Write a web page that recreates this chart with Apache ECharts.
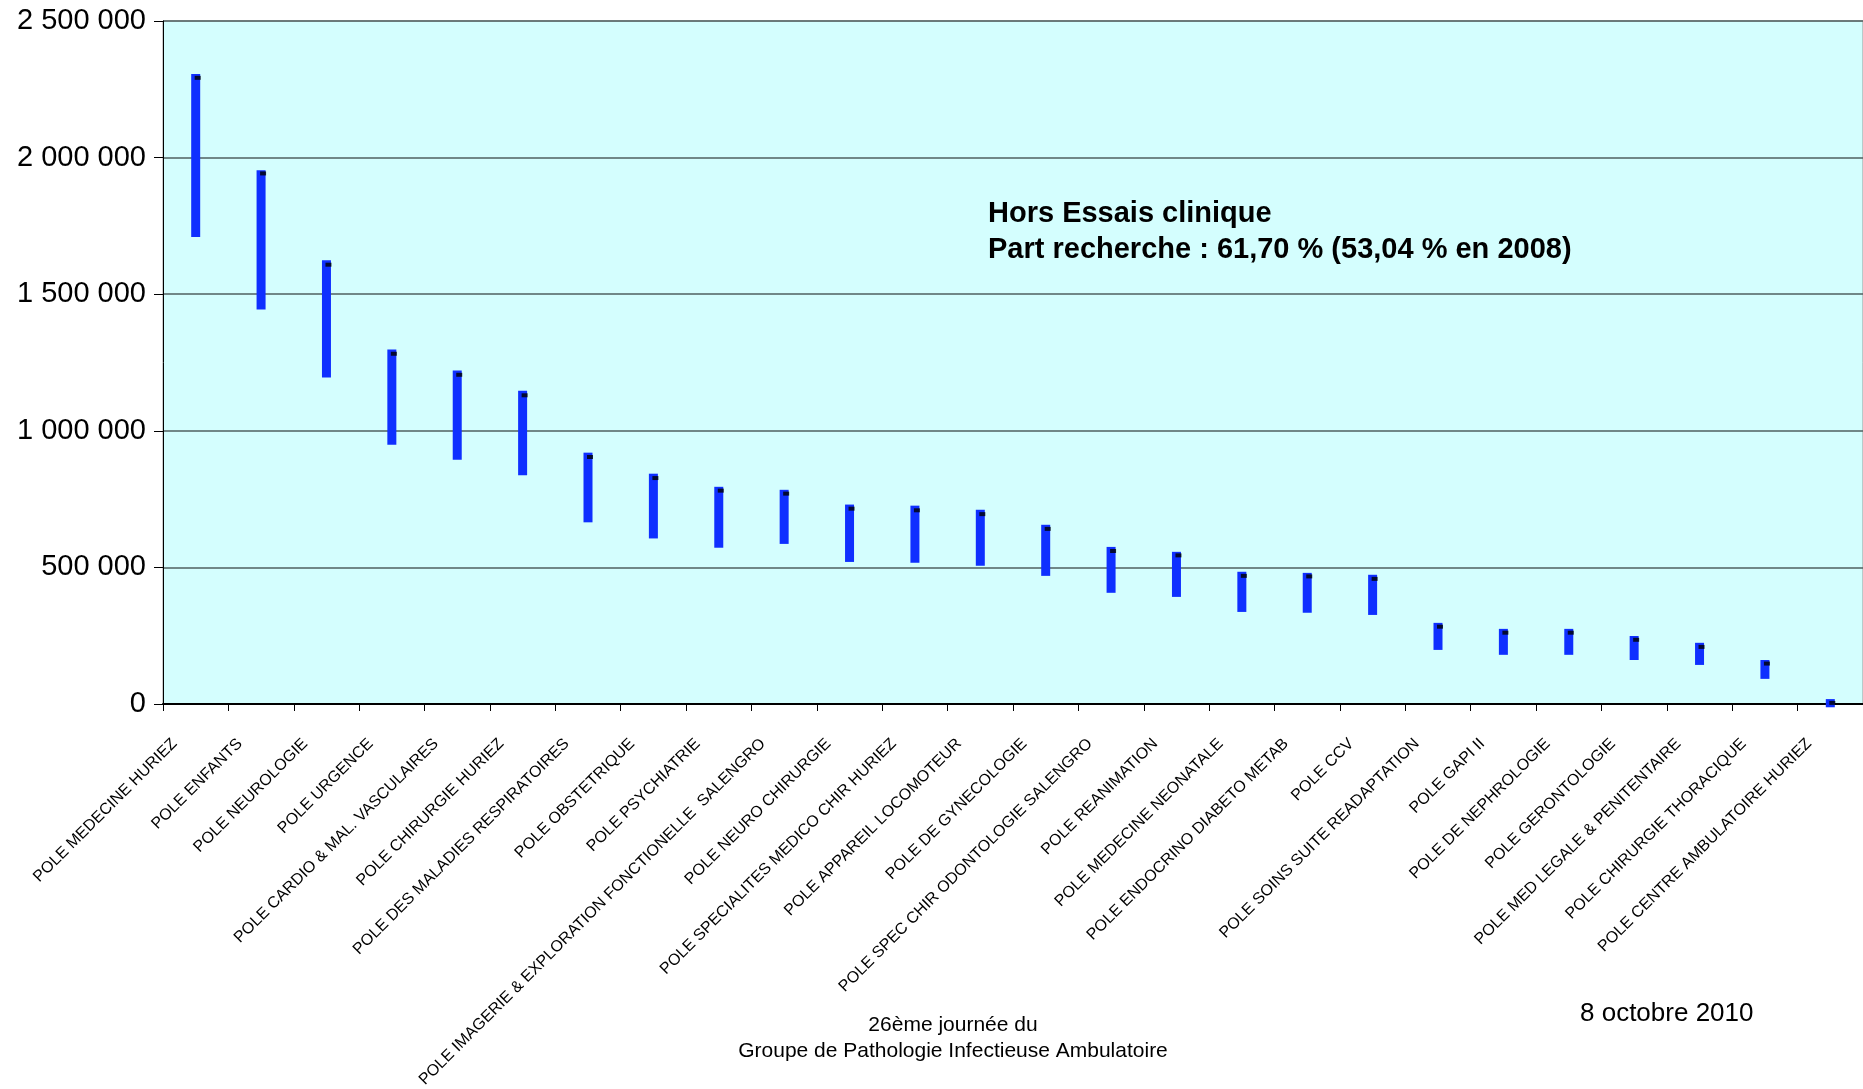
<!DOCTYPE html>
<html>
<head>
<meta charset="utf-8">
<script src="https://cdn.jsdelivr.net/npm/echarts@6/dist/echarts.min.js"></script>
<style>
html, body { margin: 0; padding: 0; background: #fff; }
#chart { width: 1863px; height: 1089px; }
</style>
</head>
<body>
<div id="chart"></div>
<script>
// categories (poles)
const categories = [
    'POLE MEDECINE HURIEZ',
    'POLE ENFANTS',
    'POLE NEUROLOGIE',
    'POLE URGENCE',
    'POLE CARDIO & MAL. VASCULAIRES',
    'POLE CHIRURGIE HURIEZ',
    'POLE DES MALADIES RESPIRATOIRES',
    'POLE OBSTETRIQUE',
    'POLE PSYCHIATRIE',
    'POLE IMAGERIE & EXPLORATION FONCTIONELLE  SALENGRO',
    'POLE NEURO CHIRURGIE',
    'POLE SPECIALITES MEDICO CHIR HURIEZ',
    'POLE APPAREIL LOCOMOTEUR',
    'POLE DE GYNECOLOGIE',
    'POLE SPEC CHIR ODONTOLOGIE SALENGRO',
    'POLE REANIMATION',
    'POLE MEDECINE NEONATALE',
    'POLE ENDOCRINO DIABETO METAB',
    'POLE CCV',
    'POLE SOINS SUITE READAPTATION',
    'POLE GAPI II',
    'POLE DE NEPHROLOGIE',
    'POLE GERONTOLOGIE',
    'POLE MED LEGALE & PENITENTAIRE',
    'POLE CHIRURGIE THORACIQUE',
    'POLE CENTRE AMBULATOIRE HURIEZ'
];
// haut de la barre
const highs = [2306000, 1954000, 1624000, 1298000, 1221000, 1147000, 920000, 843000, 795000, 784000,
    730000, 726000, 711000, 656000, 575000, 557000, 484000, 480000, 473000, 297000,
    275000, 275000, 249000, 224000, 161000, 18000];
// bas de la barre
const lows = [1709000, 1444000, 1195000, 949000, 894000, 837000, 665000, 606000, 572000, 586000,
    520000, 517000, 506000, 469000, 407000, 392000, 337000, 334000, 326000, 198000,
    180000, 180000, 161000, 143000, 92000, -12000];
// petit trait noir
const closes = [2292000, 1942000, 1608000, 1282000, 1205000, 1130000, 904000, 827000, 781000, 770000,
    715000, 709000, 695000, 641000, 560000, 544000, 469000, 467000, 458000, 283000,
    261000, 261000, 235000, 209000, 148000, 4000];

const chart = echarts.init(document.getElementById('chart'));

function fmt(v) {
    return String(v).replace(/\B(?=(\d{3})+(?!\d))/g, ' ');
}

const option = {
    animation: false,
    backgroundColor: '#ffffff',
    textStyle: { fontFamily: 'Liberation Sans, Arial, sans-serif' },
    grid: {
        left: 163,
        right: 0,
        top: 21,
        bottom: 385,
        outerBoundsMode: 'none',
        show: true,
        backgroundColor: '#d4fefe',
        borderColor: '#999999',
        borderWidth: 1
    },
    xAxis: {
        type: 'category',
        data: categories,
        boundaryGap: true,
        axisLine: { show: true, lineStyle: { color: '#000', width: 2 } },
        axisTick: { show: true, alignWithLabel: false, length: 7, lineStyle: { color: '#000' } },
        axisLabel: {
            interval: 0,
            rotate: 45,
            margin: 16,
            fontSize: 16,
            color: '#000',
            padding: [0, 30, 0, 0]
        },
        splitLine: { show: false }
    },
    yAxis: {
        type: 'value',
        min: 0,
        max: 2500000,
        interval: 500000,
        axisLine: { show: true, lineStyle: { color: '#000', width: 1 } },
        axisTick: { show: true, length: 9, lineStyle: { color: '#000' } },
        axisLabel: {
            fontSize: 29,
            color: '#000',
            margin: 17,
            formatter: fmt
        },
        splitLine: { show: true, lineStyle: { color: '#4f5f5f', width: 1.5 } }
    },
    series: [{
        // barres basse -> haute
        type: 'custom',
        clip: false,
        data: categories.map((c, i) => [i, lows[i], highs[i]]),
        encode: { x: 0, y: [1, 2] },
        renderItem: function (params, api) {
            const top = api.coord([api.value(0), api.value(2)]);
            const bot = api.coord([api.value(0), api.value(1)]);
            const w = 9;
            return {
                type: 'rect',
                shape: { x: top[0] - w / 2, y: top[1], width: w, height: bot[1] - top[1] },
                style: { fill: '#0f2fff' }
            };
        },
        z: 3
    }, {
        type: 'scatter',
        data: categories.map((c, i) => [i, closes[i]]),
        symbol: 'rect',
        symbolSize: [6, 4],
        symbolOffset: [2, 0],
        itemStyle: { color: '#000' },
        z: 4
    }],
    graphic: [{
        type: 'text',
        left: 988,
        top: 196,
        style: {
            text: 'Hors Essais clinique\nPart recherche : 61,70 % (53,04 % en 2008)',
            font: 'bold 29px "Liberation Sans", Arial, sans-serif',
            lineHeight: 36,
            fill: '#000'
        }
    }, {
        type: 'text',
        x: 953,
        y: 1012,
        style: {
            text: '26ème journée du\nGroupe de Pathologie Infectieuse Ambulatoire',
            font: '21px "Liberation Sans", Arial, sans-serif',
            lineHeight: 26,
            align: 'center',
            fill: '#000'
        }
    }, {
        type: 'text',
        left: 1580,
        top: 1001,
        style: {
            text: '8 octobre 2010',
            font: '26px "Liberation Sans", Arial, sans-serif',
            fill: '#000'
        }
    }]
};

chart.setOption(option);
</script>
</body>
</html>
